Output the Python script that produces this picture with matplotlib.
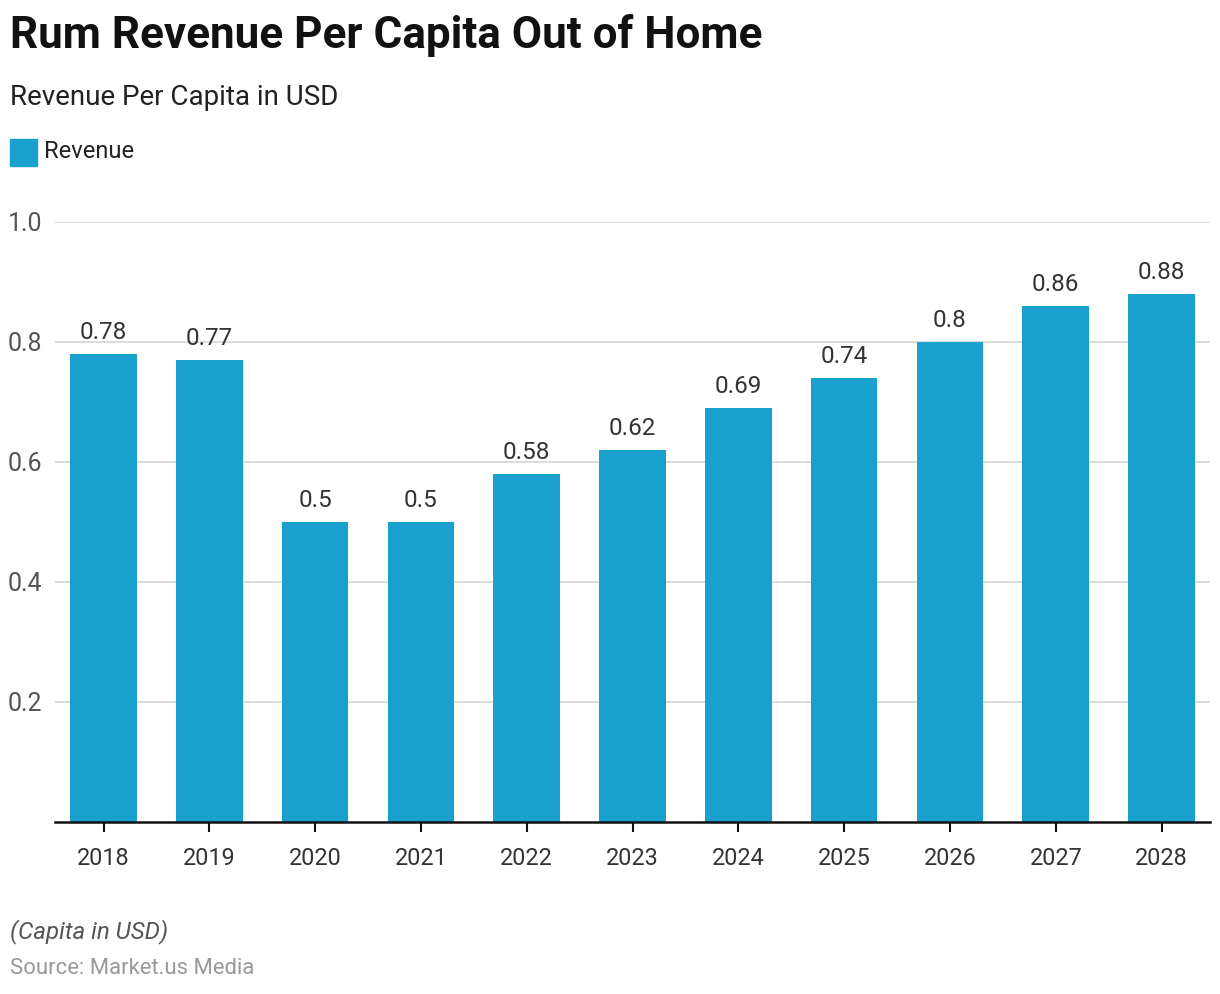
import matplotlib
matplotlib.use("Agg")
import matplotlib.pyplot as plt
from matplotlib.patches import Rectangle

plt.rcParams['font.family'] = ['Roboto', 'DejaVu Sans']

years = ['2018', '2019', '2020', '2021', '2022', '2023', '2024', '2025', '2026', '2027', '2028']
revenue = [0.78, 0.77, 0.5, 0.5, 0.58, 0.62, 0.69, 0.74, 0.8, 0.86, 0.88]
value_labels = ['0.78', '0.77', '0.5', '0.5', '0.58', '0.62', '0.69', '0.74', '0.8', '0.86', '0.88']
yticks = [0.2, 0.4, 0.6, 0.8, 1.0]
ytick_labels = ['0.2', '0.4', '0.6', '0.8', '1.0']

bar_color = '#18a1cd'

fig = plt.figure(figsize=(12.2, 9.94), dpi=100)
ax = fig.add_axes([0.045, 0.173, 0.947, 0.604])

x = range(len(years))
bars = ax.bar(x, revenue, width=0.63, color=bar_color, zorder=3)
for b, lab in zip(bars, value_labels):
    ax.text(b.get_x() + b.get_width() / 2, b.get_height() + 0.016, lab,
            ha='center', va='bottom', fontsize=17.5, color='#333333')

ax.set_xlim(-0.46, len(years) - 0.54)
ax.set_ylim(0, 1.0)
ax.set_xticks(list(x))
ax.set_xticklabels(years, fontsize=16.8, color='#333333')
ax.set_yticks(yticks)
ax.set_yticklabels(ytick_labels, fontsize=18, color='#555555')
ax.tick_params(axis='x', length=7, width=1.5, color='#111111', pad=11)
ax.tick_params(axis='y', length=0, pad=9)
ax.grid(axis='y', color='#d6d6d6', linewidth=1.2, zorder=0)
for s in ['top', 'right', 'left']:
    ax.spines[s].set_visible(False)
ax.spines['bottom'].set_color('#111111')
ax.spines['bottom'].set_linewidth(1.8)
ax.spines['bottom'].set_zorder(4)

fig.text(0.008, 0.964, 'Rum Revenue Per Capita Out of Home', fontsize=31.7,
         fontweight='bold', color='#111111', va='center', ha='left')
fig.text(0.008, 0.902, 'Revenue Per Capita in USD', fontsize=20,
         color='#222222', va='center', ha='left')
fig.patches.append(Rectangle((10 / 1220, 1 - 166 / 994), 27 / 1220, 27 / 994,
                             transform=fig.transFigure, color=bar_color))
fig.text(44 / 1220, 1 - 151 / 994, 'Revenue', fontsize=17,
         color='#222222', va='center', ha='left')
fig.text(0.008, 1 - 932 / 994, '(Capita in USD)', fontsize=17.4,
         style='italic', color='#555555', va='center', ha='left')
fig.text(0.008, 1 - 968 / 994, 'Source: Market.us Media', fontsize=15.9,
         color='#999999', va='center', ha='left')

fig.savefig('out.png', dpi=100)
